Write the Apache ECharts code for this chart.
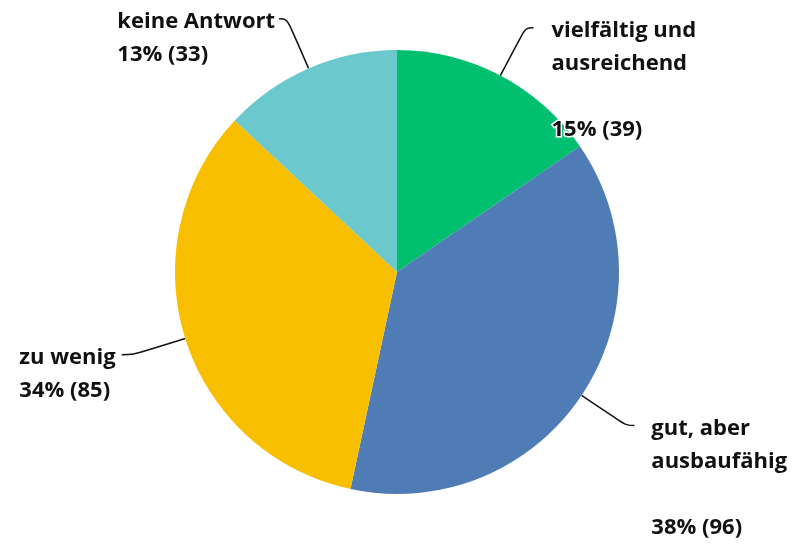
<!DOCTYPE html>
<html><head><meta charset="utf-8">
<script src="https://cdn.jsdelivr.net/npm/echarts@6/dist/echarts.min.js"></script>
<style>html,body{margin:0;padding:0;background:#fff}#c{width:796px;height:547px}</style>
</head><body><div id="c"></div>
<script>
const categories = ['vielfältig und\nausreichend\n', 'gut, aber\nausbaufähig\n', 'zu wenig', 'keine Antwort'];
const counts = [39, 96, 85, 33];
const percents = [15, 38, 34, 13];
const colors = ['#00BF6F', '#507CB6', '#F8BE00', '#6BC8CC'];
const labelGap = [18, 17, 6, 4];
const tail = [8, 8, 12, 8];

const chart = echarts.init(document.getElementById('c'));
const data = categories.map((c, i) => ({
  name: c, value: counts[i], pct: percents[i],
  itemStyle: { color: colors[i] },
  label: { distanceToLabelLine: labelGap[i] },
  labelLine: { length2: tail[i] }
}));

function fmt(p) {
  const lines = (p.name + '\n' + p.data.pct + '% (' + p.value + ')').split('\n');
  const pad = [];
  for (let k = 1; k < lines.length; k++) pad.push('');
  return pad.concat(lines.map(s => s ? '{t|' + s + '}' : '')).join('\n');
}

chart.setOption({
  animation: false,
  series: [{
    type: 'pie',
    center: [397, 272],
    radius: [0, 222],
    startAngle: 90,
    clockwise: true,
    avoidLabelOverlap: false,
    data: data,
    label: {
      show: true,
      position: 'outside',
      formatter: fmt,
      fontFamily: 'Open Sans',
      fontWeight: 700,
      fontSize: 22,
      lineHeight: 33,
      padding: [6, 0, 0, 0],
      color: '#111',
      textBorderColor: '#fff',
      textBorderWidth: 3,
      rich: {
        t: {
          align: 'left',
          fontFamily: 'Open Sans',
          fontWeight: 700,
          fontSize: 22,
          lineHeight: 33,
          color: '#111',
          textBorderColor: '#fff',
          textBorderWidth: 3
        }
      }
    },
    labelLine: {
      show: true,
      length: 54,
      length2: 8,
      smooth: 0.4,
      lineStyle: { color: '#111', width: 1.5 }
    }
  }]
});
</script></body></html>
